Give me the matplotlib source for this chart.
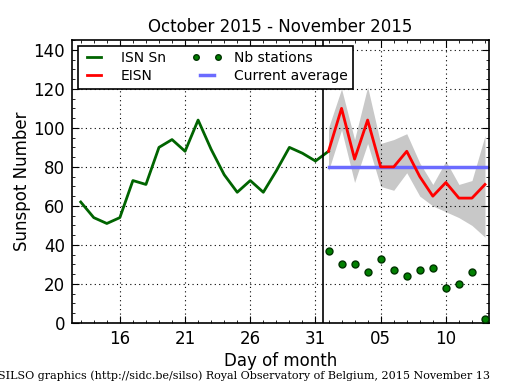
import matplotlib
matplotlib.use('Agg')
import matplotlib.pyplot as plt
from matplotlib.ticker import MultipleLocator, FixedLocator
from matplotlib.legend_handler import HandlerLine2D

# days counted from Oct 1 (Nov 1 = 32)
isn_days = list(range(13, 33))
isn_sn = [62, 54, 51, 54, 73, 71, 90, 94, 88, 104, 89, 76, 67, 73, 67, 78, 90, 87, 83, 88]

nov_days = list(range(32, 45))
eisn = [88, 110, 84, 104, 80, 80, 88, 75, 65, 72, 64, 64, 71]
eisn_hi = [100, 120, 94, 121, 92, 94, 97, 82, 71, 83, 71, 73, 96]
eisn_lo = [78, 99, 72, 92, 70, 68, 77, 65, 60, 57, 54, 50, 44]
nb_stations = [37, 30, 30, 26, 33, 27, 24, 27, 28, 18, 20, 26, 2]
current_avg = 80

tick_pos = [16, 21, 26, 31, 36, 41]
tick_labels = ['16', '21', '26', '31', '05', '10']

fig = plt.figure(figsize=(5.15, 3.9), dpi=100, facecolor='white')
ax = fig.add_axes([0.1398, 0.1718, 0.8103, 0.7255])
xmin, xmax = 12.33, 44.33

ax.fill_between(nov_days, eisn_lo, eisn_hi, color='#c8c8c8', lw=0, zorder=1)
l_avg, = ax.plot([nov_days[0], xmax], [current_avg, current_avg], color='#6b6bff', lw=2.5, zorder=2)
l_isn, = ax.plot(isn_days, isn_sn, color='#006400', lw=2, zorder=3)
l_eisn, = ax.plot(nov_days, eisn, color='red', lw=2, zorder=3)
l_nb, = ax.plot(nov_days, nb_stations, 'o', color='green', mec='#003300', ms=5, zorder=4)
ax.axvline(31.55, color='black', lw=1.2, zorder=3)

ax.set_xlim(xmin, xmax)
ax.set_ylim(0, 145)
ax.xaxis.set_major_locator(FixedLocator(tick_pos))
ax.set_xticklabels(tick_labels)
ax.xaxis.set_minor_locator(MultipleLocator(1))
ax.yaxis.set_major_locator(MultipleLocator(20))
ax.yaxis.set_minor_locator(MultipleLocator(5))
ax.tick_params(which='both', direction='in', top=True, right=True, labelsize=12, pad=5)
ax.tick_params(which='major', length=5)
ax.tick_params(which='minor', length=2.5)
ax.grid(True, which='major', color='black', linestyle=(0, (1, 3)), linewidth=0.8)
for s in ax.spines.values():
    s.set_linewidth(1.2)

ax.set_xlabel('Day of month', fontsize=12, labelpad=3)
ax.set_ylabel('Sunspot Number', fontsize=12, labelpad=2)
ax.set_title('October 2015 - November 2015', fontsize=12, pad=6)

leg = ax.legend([l_isn, l_eisn, l_nb, l_avg], ['ISN Sn', 'EISN', 'Nb stations', 'Current average'],
                loc='upper left', ncol=2, numpoints=2, fontsize=10, fancybox=False,
                framealpha=1, edgecolor='black', handlelength=1.6, handletextpad=1.1,
                columnspacing=2.2, borderaxespad=0.4, labelspacing=0.3, markerscale=0.8,
                handler_map={l_nb: HandlerLine2D(marker_pad=0)})
leg.get_frame().set_linewidth(1.2)

fig.text(-0.003, 0.037, 'SILSO graphics (http://sidc.be/silso) Royal Observatory of Belgium, 2015 November 13',
         fontsize=8, family='DejaVu Serif', ha='left', va='center')

fig.savefig('out.png', dpi=100, facecolor='white')
